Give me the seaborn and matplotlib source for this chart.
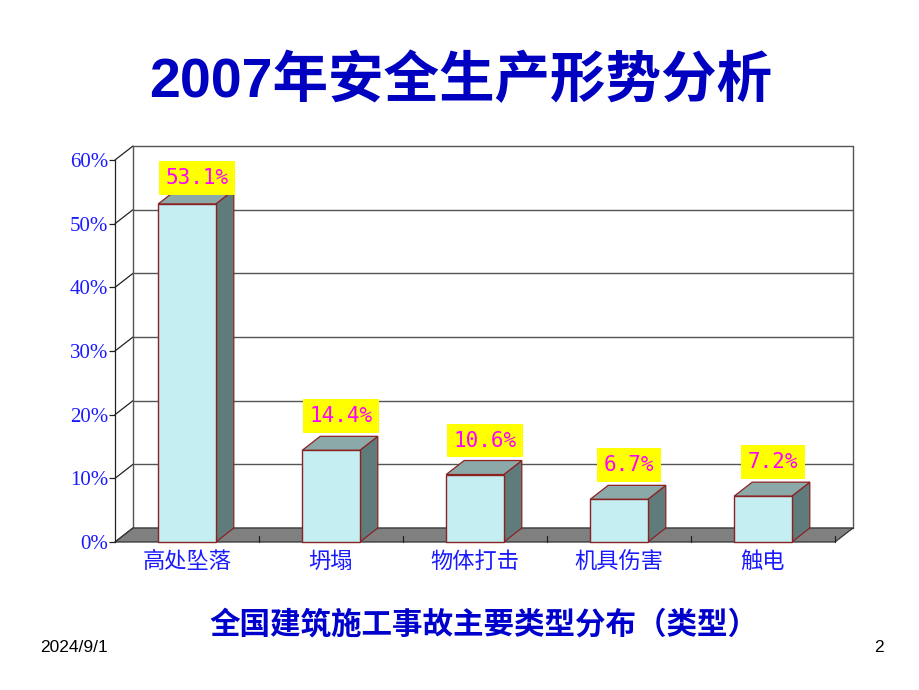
import matplotlib
matplotlib.use("Agg")
import matplotlib.pyplot as plt
from matplotlib.patches import Polygon
import seaborn as sns
import pandas as pd

# ---- data ----
categories = ["高处坠落", "坍塌", "物体打击", "机具伤害", "触电"]
values = [53.1, 14.4, 10.6, 6.7, 7.2]
labels = ["53.1%", "14.4%", "10.6%", "6.7%", "7.2%"]
yticks = [0, 10, 20, 30, 40, 50, 60]
ytick_labels = ["0%", "10%", "20%", "30%", "40%", "50%", "60%"]
title = "2007年安全生产形势分析"
subtitle = "全国建筑施工事故主要类型分布（类型）"
footer_date = "2024/9/1"
footer_page = "2"

sns.set_style("white")
plt.rcParams["font.family"] = ["Liberation Sans", "Noto Sans CJK SC", "DejaVu Sans"]

W, H = 920, 690
fig = plt.figure(figsize=(W / 100, H / 100), dpi=100)
fig.patch.set_facecolor("white")

# front plane: x 115..835 px, y 160..542 px (from top)
L, R, T, B = 115, 835, 160, 542
ax = fig.add_axes([L / W, (H - B) / H, (R - L) / W, (B - T) / H])
ax.set_facecolor("none")

df = pd.DataFrame({"cat": categories, "val": values})
face = "#c4eef2"
edge = "#8b2323"
sns.barplot(data=df, x="cat", y="val", width=0.4, color=face, edgecolor=edge,
            linewidth=1.0, saturation=1, ax=ax, zorder=5)

ax.set_xlim(-0.5, len(categories) - 0.5)
ax.set_ylim(0, 60)

# pixel -> data scale
px_x = (R - L) / len(categories)
px_y = (B - T) / 60.0
dx = 18 / px_x
dy = 14 / px_y

x0, x1 = -0.5, len(categories) - 0.5
grid_c = "#555555"

# back wall gridlines and left wall diagonals
for yv in yticks:
    ax.plot([x0 + dx, x1 + dx], [yv + dy, yv + dy], color=grid_c, lw=1.0,
            clip_on=False, zorder=1)
    ax.plot([x0, x0 + dx], [yv, yv + dy], color="#222222", lw=0.9,
            clip_on=False, zorder=1)
# back wall verticals
ax.plot([x0 + dx, x0 + dx], [dy, 60 + dy], color=grid_c, lw=1.0, clip_on=False, zorder=1)
ax.plot([x1 + dx, x1 + dx], [dy, 60 + dy], color=grid_c, lw=1.0, clip_on=False, zorder=1)

# floor
floor = Polygon([(x0, 0), (x1, 0), (x1 + dx, dy), (x0 + dx, dy)], closed=True,
                facecolor="#808080", edgecolor="#333333", lw=0.9, clip_on=False, zorder=2)
ax.add_patch(floor)
for k in range(1, len(categories) + 1):
    xb = x0 + k
    ax.plot([xb, xb], [0, 0.9], color="#222222", lw=0.9, clip_on=False, zorder=3)

# 3D sides and tops for bars
bars = [p for p in ax.patches if isinstance(p, matplotlib.patches.Rectangle)]
side_c = "#5f7b7b"
top_c = "#8ca9a9"
for p in bars:
    bx, bw, bh = p.get_x(), p.get_width(), p.get_height()
    side = Polygon([(bx + bw, 0), (bx + bw + dx, dy), (bx + bw + dx, bh + dy), (bx + bw, bh)],
                   closed=True, facecolor=side_c, edgecolor=edge, lw=0.9, clip_on=False, zorder=4)
    top = Polygon([(bx, bh), (bx + dx, bh + dy), (bx + bw + dx, bh + dy), (bx + bw, bh)],
                  closed=True, facecolor=top_c, edgecolor=edge, lw=0.9, clip_on=False, zorder=4)
    ax.add_patch(side)
    ax.add_patch(top)
    p.set_clip_on(False)

# data labels
for p, lab in zip(bars, labels):
    cx = p.get_x() + p.get_width() / 2 + 10 / px_x
    ly = min(p.get_height() + 34 / px_y, 60 - 18 / px_y)
    ax.text(cx, ly, lab, ha="center", va="center", fontsize=15,
            family="DejaVu Sans Mono", color="#ff00ff", zorder=10, clip_on=False,
            bbox=dict(facecolor="#ffff00", edgecolor="none", pad=5))

# axes styling
for s in ["top", "right", "bottom"]:
    ax.spines[s].set_visible(False)
ax.spines["left"].set_color("#222222")
ax.spines["left"].set_linewidth(0.9)
ax.set_yticks(yticks)
ax.set_yticklabels(ytick_labels, family="Liberation Serif", fontsize=15, color="#1a1aff")
ax.tick_params(axis="y", length=4, width=0.9, color="#222222", pad=1, direction="out", left=True)
ax.tick_params(axis="x", length=0, pad=6)
for t in ax.get_xticklabels():
    t.set_family(["Noto Sans CJK SC", "DejaVu Sans"])
    t.set_fontsize(16)
    t.set_color("#1a1aff")
ax.set_xlabel("")
ax.set_ylabel("")
ax.grid(False)

# titles and footer
fig.text(461 / W, 1 - 82 / H, title, ha="center", va="center", fontsize=40,
         fontweight="bold", color="#0000c0",
         family=["Liberation Sans", "Noto Sans CJK SC"])
fig.text(484 / W, 1 - 625 / H, subtitle, ha="center", va="center", fontsize=22,
         fontweight="bold", color="#0000cc", family=["Noto Sans CJK SC", "DejaVu Sans"])
fig.text(40 / W, 1 - 648 / H, footer_date, ha="left", va="center", fontsize=12.5,
         color="black", family="Liberation Sans")
fig.text(884 / W, 1 - 648 / H, footer_page, ha="right", va="center", fontsize=12.5,
         color="black", family="Liberation Sans")

fig.savefig("out.png", dpi=100)
